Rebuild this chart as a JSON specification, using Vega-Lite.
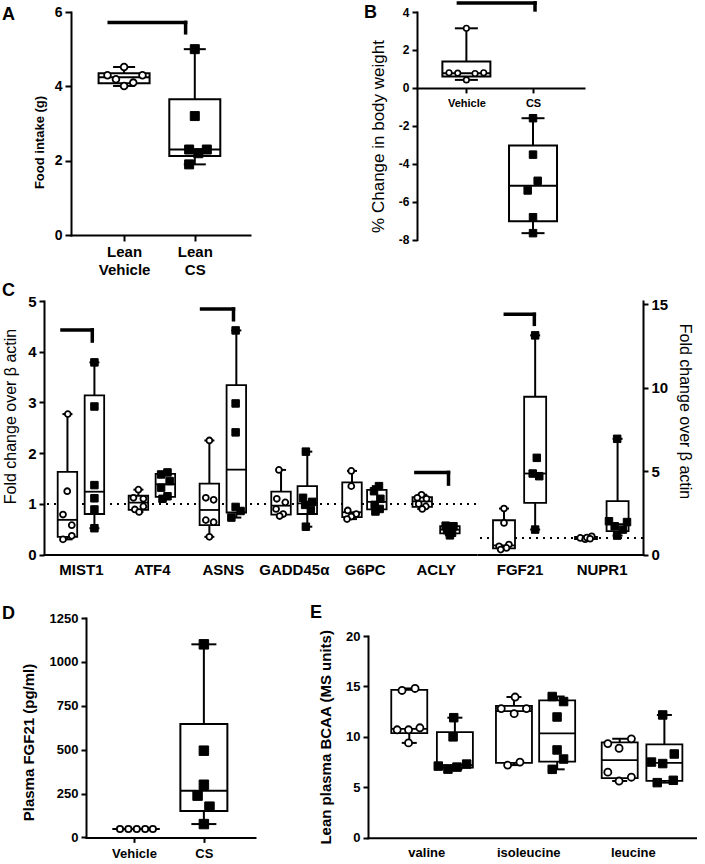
{
"$schema":"https://vega.github.io/schema/vega-lite/v6.json",
"background":"white",
"padding":{"left":2,"top":0,"right":0,"bottom":0},
"spacing":0,
"config":{
 "font":"Liberation Sans",
 "view":{"stroke":null},
 "title":{"font":"Liberation Sans","fontWeight":"bold","color":"black"},
 "axis":{"domainColor":"black","domainWidth":2,"domainCap":"square","tickColor":"black","tickWidth":2,"tickSize":5,"grid":false,"labelColor":"black","labelFont":"Liberation Sans","labelFontWeight":"bold","titleFont":"Liberation Sans","titleFontWeight":"bold","titleColor":"black","labelFlush":false,"labelOverlap":false,"labelPadding":3}
},
"datasets":{
"pts":[
{"p":"A","g":"V","x":0.765,"v":4.30},{"p":"A","g":"V","x":1.0,"v":4.52},{"p":"A","g":"V","x":0.885,"v":4.19},{"p":"A","g":"V","x":1.0,"v":4.01},{"p":"A","g":"V","x":1.13,"v":4.10},{"p":"A","g":"V","x":1.26,"v":4.30},
{"p":"A","g":"C","x":2.0,"v":5.0},{"p":"A","g":"C","x":2.0,"v":3.2},{"p":"A","g":"C","x":1.92,"v":2.3},{"p":"A","g":"C","x":2.17,"v":2.3},{"p":"A","g":"C","x":2.05,"v":2.2},{"p":"A","g":"C","x":1.92,"v":1.9},
{"p":"B","g":"V","x":1.0,"v":3.14},{"p":"B","g":"V","x":0.74,"v":0.80},{"p":"B","g":"V","x":0.87,"v":0.78},{"p":"B","g":"V","x":1.13,"v":0.76},{"p":"B","g":"V","x":1.26,"v":0.80},{"p":"B","g":"V","x":1.0,"v":0.42},
{"p":"B","g":"C","x":2.0,"v":-1.6},{"p":"B","g":"C","x":2.0,"v":-3.52},{"p":"B","g":"C","x":2.07,"v":-4.9},{"p":"B","g":"C","x":1.92,"v":-5.41},{"p":"B","g":"C","x":2.0,"v":-6.82},{"p":"B","g":"C","x":2.0,"v":-7.66},
{"p":"CL","g":"V","x":0.815,"v":2.77},{"p":"CL","g":"V","x":0.807,"v":1.25},{"p":"CL","g":"V","x":0.747,"v":0.79},{"p":"CL","g":"V","x":0.871,"v":0.58},{"p":"CL","g":"V","x":0.871,"v":0.37},{"p":"CL","g":"V","x":0.747,"v":0.30},
{"p":"CL","g":"C","x":1.19,"v":3.79},{"p":"CL","g":"C","x":1.19,"v":2.92},{"p":"CL","g":"C","x":1.19,"v":1.37},{"p":"CL","g":"C","x":1.19,"v":1.11},{"p":"CL","g":"C","x":1.19,"v":0.89},{"p":"CL","g":"C","x":1.19,"v":0.52},
{"p":"CL","g":"V","x":1.81,"v":1.28},{"p":"CL","g":"V","x":1.74,"v":1.12},{"p":"CL","g":"V","x":1.88,"v":1.10},{"p":"CL","g":"V","x":1.88,"v":0.95},{"p":"CL","g":"V","x":1.76,"v":0.89},{"p":"CL","g":"V","x":1.82,"v":0.84},
{"p":"CL","g":"C","x":2.22,"v":1.62},{"p":"CL","g":"C","x":2.13,"v":1.58},{"p":"CL","g":"C","x":2.25,"v":1.45},{"p":"CL","g":"C","x":2.13,"v":1.32},{"p":"CL","g":"C","x":2.22,"v":1.15},{"p":"CL","g":"C","x":2.15,"v":1.10},
{"p":"CL","g":"V","x":2.81,"v":2.25},{"p":"CL","g":"V","x":2.76,"v":1.12},{"p":"CL","g":"V","x":2.87,"v":1.08},{"p":"CL","g":"V","x":2.76,"v":0.68},{"p":"CL","g":"V","x":2.87,"v":0.64},{"p":"CL","g":"V","x":2.81,"v":0.35},
{"p":"CL","g":"C","x":3.18,"v":4.42},{"p":"CL","g":"C","x":3.18,"v":2.98},{"p":"CL","g":"C","x":3.18,"v":2.41},{"p":"CL","g":"C","x":3.18,"v":0.94},{"p":"CL","g":"C","x":3.25,"v":0.86},{"p":"CL","g":"C","x":3.12,"v":0.73},
{"p":"CL","g":"V","x":3.79,"v":1.67},{"p":"CL","g":"V","x":3.76,"v":1.10},{"p":"CL","g":"V","x":3.88,"v":1.03},{"p":"CL","g":"V","x":3.75,"v":0.90},{"p":"CL","g":"V","x":3.85,"v":0.80},{"p":"CL","g":"V","x":3.80,"v":0.76},
{"p":"CL","g":"C","x":4.17,"v":2.03},{"p":"CL","g":"C","x":4.13,"v":1.12},{"p":"CL","g":"C","x":4.26,"v":1.04},{"p":"CL","g":"C","x":4.16,"v":0.98},{"p":"CL","g":"C","x":4.24,"v":0.88},{"p":"CL","g":"C","x":4.17,"v":0.55},
{"p":"CL","g":"V","x":4.81,"v":1.65},{"p":"CL","g":"V","x":4.81,"v":1.35},{"p":"CL","g":"V","x":4.76,"v":0.87},{"p":"CL","g":"V","x":4.88,"v":0.80},{"p":"CL","g":"V","x":4.81,"v":0.75},{"p":"CL","g":"V","x":4.75,"v":0.70},
{"p":"CL","g":"C","x":5.20,"v":1.35},{"p":"CL","g":"C","x":5.13,"v":1.25},{"p":"CL","g":"C","x":5.22,"v":1.10},{"p":"CL","g":"C","x":5.14,"v":0.98},{"p":"CL","g":"C","x":5.21,"v":0.90},{"p":"CL","g":"C","x":5.15,"v":0.85},
{"p":"CL","g":"V","x":5.80,"v":1.18},{"p":"CL","g":"V","x":5.74,"v":1.12},{"p":"CL","g":"V","x":5.87,"v":1.10},{"p":"CL","g":"V","x":5.76,"v":1.00},{"p":"CL","g":"V","x":5.86,"v":0.95},{"p":"CL","g":"V","x":5.81,"v":0.90},
{"p":"CL","g":"C","x":6.14,"v":0.57},{"p":"CL","g":"C","x":6.25,"v":0.56},{"p":"CL","g":"C","x":6.20,"v":0.50},{"p":"CL","g":"C","x":6.16,"v":0.48},{"p":"CL","g":"C","x":6.23,"v":0.43},{"p":"CL","g":"C","x":6.20,"v":0.38},
{"p":"CR","g":"V","x":0.81,"v":2.76},{"p":"CR","g":"V","x":0.81,"v":1.9},{"p":"CR","g":"V","x":0.87,"v":0.6},{"p":"CR","g":"V","x":0.75,"v":0.5},{"p":"CR","g":"V","x":0.84,"v":0.4},{"p":"CR","g":"V","x":0.77,"v":0.3},
{"p":"CR","g":"C","x":1.19,"v":13.14},{"p":"CR","g":"C","x":1.21,"v":5.8},{"p":"CR","g":"C","x":1.16,"v":4.86},{"p":"CR","g":"C","x":1.24,"v":4.70},{"p":"CR","g":"C","x":1.19,"v":1.5},
{"p":"CR","g":"V","x":1.74,"v":1.0},{"p":"CR","g":"V","x":1.80,"v":0.92},{"p":"CR","g":"V","x":1.82,"v":1.02},{"p":"CR","g":"V","x":1.88,"v":1.1},{"p":"CR","g":"V","x":1.86,"v":0.95},
{"p":"CR","g":"C","x":2.19,"v":6.94},{"p":"CR","g":"C","x":2.09,"v":2.0},{"p":"CR","g":"C","x":2.31,"v":1.95},{"p":"CR","g":"C","x":2.16,"v":1.7},{"p":"CR","g":"C","x":2.26,"v":1.5},{"p":"CR","g":"C","x":2.19,"v":1.14},
{"p":"D","g":"V","x":0.80,"v":48},{"p":"D","g":"V","x":0.92,"v":48},{"p":"D","g":"V","x":1.04,"v":48},{"p":"D","g":"V","x":1.16,"v":48},{"p":"D","g":"V","x":1.27,"v":48},
{"p":"D","g":"C","x":2.0,"v":1100},{"p":"D","g":"C","x":2.0,"v":494},{"p":"D","g":"C","x":2.0,"v":300},{"p":"D","g":"C","x":1.91,"v":238},{"p":"D","g":"C","x":2.08,"v":175},{"p":"D","g":"C","x":2.0,"v":76},
{"p":"E","g":"V","x":0.714,"v":14.6},{"p":"E","g":"V","x":0.838,"v":14.8},{"p":"E","g":"V","x":0.668,"v":10.7},{"p":"E","g":"V","x":0.776,"v":10.7},{"p":"E","g":"V","x":0.884,"v":10.9},{"p":"E","g":"V","x":0.776,"v":9.4},
{"p":"E","g":"C","x":1.206,"v":11.9},{"p":"E","g":"C","x":1.2,"v":10.0},{"p":"E","g":"C","x":1.059,"v":7.1},{"p":"E","g":"C","x":1.151,"v":6.8},{"p":"E","g":"C","x":1.237,"v":7.0},{"p":"E","g":"C","x":1.329,"v":7.3},
{"p":"E","g":"V","x":1.79,"v":13.95},{"p":"E","g":"V","x":1.658,"v":12.8},{"p":"E","g":"V","x":1.781,"v":12.3},{"p":"E","g":"V","x":1.898,"v":12.8},{"p":"E","g":"V","x":1.836,"v":7.5},{"p":"E","g":"V","x":1.719,"v":7.2},
{"p":"E","g":"C","x":2.143,"v":14.0},{"p":"E","g":"C","x":2.251,"v":13.5},{"p":"E","g":"C","x":2.189,"v":11.97},{"p":"E","g":"C","x":2.189,"v":8.7},{"p":"E","g":"C","x":2.251,"v":7.8},{"p":"E","g":"C","x":2.143,"v":6.78},
{"p":"E","g":"V","x":2.672,"v":9.33},{"p":"E","g":"V","x":2.896,"v":9.8},{"p":"E","g":"V","x":2.779,"v":8.87},{"p":"E","g":"V","x":2.672,"v":6.5},{"p":"E","g":"V","x":2.896,"v":6.0},{"p":"E","g":"V","x":2.779,"v":5.62},
{"p":"E","g":"C","x":3.194,"v":12.17},{"p":"E","g":"C","x":3.304,"v":8.3},{"p":"E","g":"C","x":3.087,"v":7.5},{"p":"E","g":"C","x":3.194,"v":7.35},{"p":"E","g":"C","x":3.295,"v":5.69},{"p":"E","g":"C","x":3.142,"v":5.46}
],
"box":[
{"p":"A","g":"V","x":1.0,"lo":4.01,"q1":4.08,"med":4.245,"q3":4.355,"hi":4.52},
{"p":"A","g":"C","x":2.0,"lo":1.9,"q1":2.125,"med":2.3,"q3":3.65,"hi":5.0},
{"p":"B","g":"V","x":1.0,"lo":0.42,"q1":0.60,"med":0.77,"q3":1.39,"hi":3.14},
{"p":"B","g":"C","x":2.0,"lo":-7.66,"q1":-7.03,"med":-5.16,"q3":-3.04,"hi":-1.6},
{"p":"CL","g":"V","x":0.81,"lo":0.30,"q1":0.35,"med":0.685,"q3":1.63,"hi":2.77},
{"p":"CL","g":"C","x":1.19,"lo":0.52,"q1":0.80,"med":1.24,"q3":3.14,"hi":3.79},
{"p":"CL","g":"V","x":1.81,"lo":0.84,"q1":0.88,"med":1.025,"q3":1.16,"hi":1.28},
{"p":"CL","g":"C","x":2.19,"lo":1.10,"q1":1.14,"med":1.385,"q3":1.59,"hi":1.62},
{"p":"CL","g":"V","x":2.81,"lo":0.35,"q1":0.58,"med":0.88,"q3":1.40,"hi":2.25},
{"p":"CL","g":"C","x":3.19,"lo":0.73,"q1":0.83,"med":1.675,"q3":3.34,"hi":4.42},
{"p":"CL","g":"V","x":3.82,"lo":0.76,"q1":0.79,"med":0.965,"q3":1.24,"hi":1.67},
{"p":"CL","g":"C","x":4.19,"lo":0.55,"q1":0.80,"med":1.01,"q3":1.35,"hi":2.03},
{"p":"CL","g":"V","x":4.82,"lo":0.70,"q1":0.74,"med":0.835,"q3":1.425,"hi":1.65},
{"p":"CL","g":"C","x":5.17,"lo":0.85,"q1":0.89,"med":1.04,"q3":1.275,"hi":1.35},
{"p":"CL","g":"V","x":5.81,"lo":0.90,"q1":0.94,"med":1.05,"q3":1.135,"hi":1.18},
{"p":"CL","g":"C","x":6.20,"lo":0.38,"q1":0.42,"med":0.49,"q3":0.5625,"hi":0.57},
{"p":"CR","g":"V","x":0.81,"lo":0.3,"q1":0.375,"med":0.55,"q3":2.06,"hi":2.76},
{"p":"CR","g":"C","x":1.19,"lo":1.5,"q1":3.1,"med":4.86,"q3":9.46,"hi":13.14},
{"p":"CR","g":"V","x":1.81,"lo":0.92,"q1":0.935,"med":1.0,"q3":1.06,"hi":1.1},
{"p":"CR","g":"C","x":2.195,"lo":1.14,"q1":1.41,"med":1.825,"q3":3.2,"hi":6.94},
{"p":"D","g":"V","x":1.03,"lo":48,"q1":48,"med":48,"q3":48,"hi":48},
{"p":"D","g":"C","x":2.0,"lo":76,"q1":150,"med":266,"q3":646,"hi":1100},
{"p":"E","g":"V","x":0.783,"lo":9.4,"q1":10.375,"med":10.8,"q3":14.65,"hi":14.8},
{"p":"E","g":"C","x":1.217,"lo":6.8,"q1":6.95,"med":7.2,"q3":10.475,"hi":11.9},
{"p":"E","g":"V","x":1.779,"lo":7.2,"q1":7.425,"med":12.55,"q3":13.075,"hi":13.95},
{"p":"E","g":"C","x":2.19,"lo":6.78,"q1":7.545,"med":10.335,"q3":13.625,"hi":14.0},
{"p":"E","g":"V","x":2.785,"lo":5.62,"q1":5.905,"med":7.685,"q3":9.45,"hi":9.8},
{"p":"E","g":"C","x":3.21,"lo":5.46,"q1":5.63,"med":7.425,"q3":9.26,"hi":12.17}
],
"brk":[
{"p":"A","xa":0.79,"xb":1.87,"yt":5.72,"yb":5.44},
{"p":"B","xa":0.88,"xb":2.03,"yt":4.48,"yb":4.11},
{"p":"CL","xa":0.733,"xb":1.16,"yt":4.43,"yb":4.21},
{"p":"CL","xa":2.70,"xb":3.15,"yt":4.84,"yb":4.63},
{"p":"CL","xa":5.72,"xb":6.18,"yt":1.62,"yb":1.39},
{"p":"CR","xa":0.826,"xb":1.18,"yt":14.4,"yb":13.8}
],
"ref":[{"p":"CL","r":1},{"p":"CR","r":1}]
},
"vconcat":[
{"hconcat":[
 {"width":27,"height":1,"data":{"values":[]},"mark":"point"},
 {"width":179,"height":223,
  "title":{"text":"A","anchor":"start","frame":"group","orient":"top","baseline":"bottom","offset":0,"dx":-69,"dy":37,"fontSize":18},
  "layer":[
   {"data":{"name":"box"},"transform":[{"filter":"datum.p=='A'"}],"mark":{"type":"rule","color":"black","strokeWidth":2},
    "encoding":{"x":{"field":"x","type":"quantitative","scale":{"domain":[0.32,2.71],"nice":false,"zero":false},"axis":{"title":null,"values":[1,2],"labelExpr":"datum.value<1.5?['Lean','Vehicle']:['Lean','CS']","labelFontSize":15,"labelLineHeight":18,"tickSize":6,"labelOverlap":false}},
     "y":{"field":"lo","type":"quantitative","scale":{"domain":[0,6],"nice":false,"zero":false},"axis":{"title":"Food intake (g)","values":[0,2,4,6],"labelFontSize":14,"titleFontSize":13,"titlePadding":8,"titleY":130,"tickSize":6,"labelOverlap":false}},
     "y2":{"field":"hi"}}},
   {"data":{"name":"box"},"transform":[{"filter":"datum.p=='A'"}],"mark":{"type":"bar","width":51,"fill":"white","stroke":"black","strokeWidth":2},
    "encoding":{"x":{"field":"x","type":"quantitative"},"y":{"field":"q1","type":"quantitative"},"y2":{"field":"q3"}}},
   {"data":{"name":"box"},"transform":[{"filter":"datum.p=='A'"}],"mark":{"type":"tick","orient":"horizontal","size":51,"thickness":2,"color":"black","opacity":1},
    "encoding":{"x":{"field":"x","type":"quantitative"},"y":{"field":"med","type":"quantitative"}}},
   {"data":{"name":"box"},"transform":[{"filter":"datum.p=='A'"},{"fold":["lo","hi"],"as":["k","cv"]}],"mark":{"type":"tick","orient":"horizontal","size":22,"thickness":2,"color":"black","opacity":1},
    "encoding":{"x":{"field":"x","type":"quantitative"},"y":{"field":"cv","type":"quantitative"}}},
   {"data":{"name":"pts"},"transform":[{"filter":"datum.p=='A' && datum.g=='V'"}],"mark":{"type":"point","shape":"circle","size":45,"filled":true,"fill":"white","stroke":"black","strokeWidth":1.8,"opacity":1},
    "encoding":{"x":{"field":"x","type":"quantitative"},"y":{"field":"v","type":"quantitative"}}},
   {"data":{"name":"pts"},"transform":[{"filter":"datum.p=='A' && datum.g=='C'"}],"mark":{"type":"point","shape":"square","size":81,"filled":true,"fill":"black","stroke":"black","strokeWidth":1,"opacity":1},
    "encoding":{"x":{"field":"x","type":"quantitative"},"y":{"field":"v","type":"quantitative"}}},
   {"data":{"name":"brk"},"transform":[{"filter":"datum.p=='A'"}],"mark":{"type":"rule","color":"black","strokeWidth":3.5,"strokeCap":"square"},
    "encoding":{"x":{"field":"xa","type":"quantitative"},"x2":{"field":"xb"},"y":{"field":"yt","type":"quantitative"}}},
   {"data":{"name":"brk"},"transform":[{"filter":"datum.p=='A'"}],"mark":{"type":"rule","color":"black","strokeWidth":3.5,"strokeCap":"square"},
    "encoding":{"x":{"field":"xb","type":"quantitative"},"y":{"field":"yt","type":"quantitative"},"y2":{"field":"yb"}}}
  ]},
 {"width":167,"height":1,"data":{"values":[]},"mark":"point"},
 {"width":167,"height":227.6,
  "title":{"text":"B","anchor":"start","frame":"group","orient":"top","baseline":"bottom","offset":0,"dx":-53,"dy":39.6,"fontSize":18},
  "layer":[
   {"data":{"name":"box"},"transform":[{"filter":"datum.p=='B'"}],"mark":{"type":"rule","color":"black","strokeWidth":2},
    "encoding":{"x":{"field":"x","type":"quantitative","scale":{"domain":[0.334,2.69],"nice":false,"zero":false},"axis":{"title":null,"values":[1,2],"labelExpr":"datum.value<1.5?'Vehicle':'CS'","labelFontSize":11,"labelPadding":5,"offset":-151.7,"labelOverlap":false}},
     "y":{"field":"lo","type":"quantitative","scale":{"domain":[-8,4],"nice":false,"zero":false},"axis":{"title":"% Change in body weight","tickCount":7,"labelExpr":"datum.value<0?'-'+abs(datum.value):''+datum.value","labelFontSize":12,"titleFontSize":17,"titleFontWeight":"normal","titlePadding":11,"titleY":124,"labelOverlap":false,"labelSeparation":0}},
     "y2":{"field":"hi"}}},
   {"data":{"name":"box"},"transform":[{"filter":"datum.p=='B'"}],"mark":{"type":"bar","width":48,"fill":"white","stroke":"black","strokeWidth":2},
    "encoding":{"x":{"field":"x","type":"quantitative"},"y":{"field":"q1","type":"quantitative"},"y2":{"field":"q3"}}},
   {"data":{"name":"box"},"transform":[{"filter":"datum.p=='B'"}],"mark":{"type":"tick","orient":"horizontal","size":48,"thickness":2,"color":"black","opacity":1},
    "encoding":{"x":{"field":"x","type":"quantitative"},"y":{"field":"med","type":"quantitative"}}},
   {"data":{"name":"box"},"transform":[{"filter":"datum.p=='B'"},{"fold":["lo","hi"],"as":["k","cv"]}],"mark":{"type":"tick","orient":"horizontal","size":23,"thickness":2,"color":"black","opacity":1},
    "encoding":{"x":{"field":"x","type":"quantitative"},"y":{"field":"cv","type":"quantitative"}}},
   {"data":{"name":"pts"},"transform":[{"filter":"datum.p=='B' && datum.g=='V'"}],"mark":{"type":"point","shape":"circle","size":30,"filled":true,"fill":"white","stroke":"black","strokeWidth":1.6,"opacity":1},
    "encoding":{"x":{"field":"x","type":"quantitative"},"y":{"field":"v","type":"quantitative"}}},
   {"data":{"name":"pts"},"transform":[{"filter":"datum.p=='B' && datum.g=='C'"}],"mark":{"type":"point","shape":"square","size":56,"filled":true,"fill":"black","stroke":"black","strokeWidth":1,"opacity":1},
    "encoding":{"x":{"field":"x","type":"quantitative"},"y":{"field":"v","type":"quantitative"}}},
   {"data":{"name":"brk"},"transform":[{"filter":"datum.p=='B'"}],"mark":{"type":"rule","color":"black","strokeWidth":3.5,"strokeCap":"square"},
    "encoding":{"x":{"field":"xa","type":"quantitative"},"x2":{"field":"xb"},"y":{"field":"yt","type":"quantitative"}}},
   {"data":{"name":"brk"},"transform":[{"filter":"datum.p=='B'"}],"mark":{"type":"rule","color":"black","strokeWidth":3.5,"strokeCap":"square"},
    "encoding":{"x":{"field":"xb","type":"quantitative"},"y":{"field":"yt","type":"quantitative"},"y2":{"field":"yb"}}}
  ]}
 ],"spacing":0,"bounds":"flush"},
{"width":1,"height":4.7,"view":{"fill":"white","stroke":null},"data":{"values":[]},"mark":"point"},
{"hconcat":[
 {"width":432,"height":253.6,
  "title":{"text":"C","anchor":"start","frame":"group","orient":"top","baseline":"bottom","offset":0,"dx":-42,"dy":24.3,"fontSize":18},
  "layer":[
   {"data":{"name":"ref"},"transform":[{"filter":"datum.p=='CL'"}],"mark":{"type":"rule","color":"black","strokeWidth":2,"strokeDash":[2,5]},
    "encoding":{"y":{"field":"r","type":"quantitative"}}},
   {"data":{"name":"box"},"transform":[{"filter":"datum.p=='CL'"}],"mark":{"type":"rule","color":"black","strokeWidth":2},
    "encoding":{"x":{"field":"x","type":"quantitative","scale":{"domain":[0.55,6.497],"nice":false,"zero":false},"axis":{"title":null,"values":[1,2,3,4,5,6],"ticks":false,"tickSize":0,"labelExpr":"['MIST1','ATF4','ASNS','GADD45α','G6PC','ACLY'][round(datum.value)-1]","labelFontSize":15,"labelPadding":8,"labelOverlap":false}},
     "y":{"field":"lo","type":"quantitative","scale":{"domain":[0,5],"nice":false,"zero":false},"axis":{"title":"Fold change over β actin","values":[0,1,2,3,4,5],"labelFontSize":15,"titleFontSize":16,"titleFontWeight":"normal","titlePadding":9,"titleY":115,"labelOverlap":false}},
     "y2":{"field":"hi"}}},
   {"data":{"name":"box"},"transform":[{"filter":"datum.p=='CL'"}],"mark":{"type":"bar","width":19.5,"fill":"white","stroke":"black","strokeWidth":1.8},
    "encoding":{"x":{"field":"x","type":"quantitative"},"y":{"field":"q1","type":"quantitative"},"y2":{"field":"q3"}}},
   {"data":{"name":"box"},"transform":[{"filter":"datum.p=='CL'"}],"mark":{"type":"tick","orient":"horizontal","size":19.5,"thickness":1.8,"color":"black","opacity":1},
    "encoding":{"x":{"field":"x","type":"quantitative"},"y":{"field":"med","type":"quantitative"}}},
   {"data":{"name":"box"},"transform":[{"filter":"datum.p=='CL'"},{"fold":["lo","hi"],"as":["k","cv"]}],"mark":{"type":"tick","orient":"horizontal","size":10,"thickness":2,"color":"black","opacity":1},
    "encoding":{"x":{"field":"x","type":"quantitative"},"y":{"field":"cv","type":"quantitative"}}},
   {"data":{"name":"pts"},"transform":[{"filter":"datum.p=='CL' && datum.g=='V'"}],"mark":{"type":"point","shape":"circle","size":35,"filled":true,"fill":"white","stroke":"black","strokeWidth":1.8,"opacity":1},
    "encoding":{"x":{"field":"x","type":"quantitative"},"y":{"field":"v","type":"quantitative"}}},
   {"data":{"name":"pts"},"transform":[{"filter":"datum.p=='CL' && datum.g=='C'"}],"mark":{"type":"point","shape":"square","size":56,"filled":true,"fill":"black","stroke":"black","strokeWidth":1,"opacity":1},
    "encoding":{"x":{"field":"x","type":"quantitative"},"y":{"field":"v","type":"quantitative"}}},
   {"data":{"name":"brk"},"transform":[{"filter":"datum.p=='CL'"}],"mark":{"type":"rule","color":"black","strokeWidth":3.5,"strokeCap":"square"},
    "encoding":{"x":{"field":"xa","type":"quantitative"},"x2":{"field":"xb"},"y":{"field":"yt","type":"quantitative"}}},
   {"data":{"name":"brk"},"transform":[{"filter":"datum.p=='CL'"}],"mark":{"type":"rule","color":"black","strokeWidth":3.5,"strokeCap":"square"},
    "encoding":{"x":{"field":"xb","type":"quantitative"},"y":{"field":"yt","type":"quantitative"},"y2":{"field":"yb"}}}
  ]},
 {"width":165,"height":253.6,
  "layer":[
   {"data":{"name":"ref"},"transform":[{"filter":"datum.p=='CR'"}],"mark":{"type":"rule","color":"black","strokeWidth":2,"strokeDash":[2,5]},
    "encoding":{"y":{"field":"r","type":"quantitative"}}},
   {"data":{"name":"box"},"transform":[{"filter":"datum.p=='CR'"}],"mark":{"type":"rule","color":"black","strokeWidth":2},
    "encoding":{"x":{"field":"x","type":"quantitative","scale":{"domain":[0.554,2.444],"nice":false,"zero":false},"axis":{"title":null,"values":[1,2],"ticks":false,"tickSize":0,"labelExpr":"datum.value<1.5?'FGF21':'NUPR1'","labelFontSize":15,"labelPadding":8,"labelOverlap":false}},
     "y":{"field":"lo","type":"quantitative","scale":{"domain":[0,15.2],"nice":false,"zero":false},"axis":{"orient":"right","title":"Fold change over  β actin","values":[0,5,10,15],"labelFontSize":15,"titleFontSize":16,"titleFontWeight":"normal","titlePadding":9,"titleY":110,"labelOverlap":false}},
     "y2":{"field":"hi"}}},
   {"data":{"name":"box"},"transform":[{"filter":"datum.p=='CR'"}],"mark":{"type":"bar","width":22,"fill":"white","stroke":"black","strokeWidth":1.8},
    "encoding":{"x":{"field":"x","type":"quantitative"},"y":{"field":"q1","type":"quantitative"},"y2":{"field":"q3"}}},
   {"data":{"name":"box"},"transform":[{"filter":"datum.p=='CR'"}],"mark":{"type":"tick","orient":"horizontal","size":22,"thickness":1.8,"color":"black","opacity":1},
    "encoding":{"x":{"field":"x","type":"quantitative"},"y":{"field":"med","type":"quantitative"}}},
   {"data":{"name":"box"},"transform":[{"filter":"datum.p=='CR'"},{"fold":["lo","hi"],"as":["k","cv"]}],"mark":{"type":"tick","orient":"horizontal","size":10,"thickness":2,"color":"black","opacity":1},
    "encoding":{"x":{"field":"x","type":"quantitative"},"y":{"field":"cv","type":"quantitative"}}},
   {"data":{"name":"pts"},"transform":[{"filter":"datum.p=='CR' && datum.g=='V'"}],"mark":{"type":"point","shape":"circle","size":35,"filled":true,"fill":"white","stroke":"black","strokeWidth":1.8,"opacity":1},
    "encoding":{"x":{"field":"x","type":"quantitative"},"y":{"field":"v","type":"quantitative"}}},
   {"data":{"name":"pts"},"transform":[{"filter":"datum.p=='CR' && datum.g=='C'"}],"mark":{"type":"point","shape":"square","size":56,"filled":true,"fill":"black","stroke":"black","strokeWidth":1,"opacity":1},
    "encoding":{"x":{"field":"x","type":"quantitative"},"y":{"field":"v","type":"quantitative"}}},
   {"data":{"name":"brk"},"transform":[{"filter":"datum.p=='CR'"}],"mark":{"type":"rule","color":"black","strokeWidth":3.5,"strokeCap":"square"},
    "encoding":{"x":{"field":"xa","type":"quantitative"},"x2":{"field":"xb"},"y":{"field":"yt","type":"quantitative"}}},
   {"data":{"name":"brk"},"transform":[{"filter":"datum.p=='CR'"}],"mark":{"type":"rule","color":"black","strokeWidth":3.5,"strokeCap":"square"},
    "encoding":{"x":{"field":"xb","type":"quantitative"},"y":{"field":"yt","type":"quantitative"},"y2":{"field":"yb"}}}
  ]}
 ],"spacing":2,"bounds":"flush"},
{"width":1,"height":25.6,"view":{"fill":"white","stroke":null},"data":{"values":[]},"mark":"point"},
{"hconcat":[
 {"width":42,"height":1,"data":{"values":[]},"mark":"point"},
 {"width":169,"height":219.4,
  "title":{"text":"D","anchor":"start","frame":"group","orient":"top","baseline":"bottom","offset":0,"dx":-84,"dy":28.7,"fontSize":18},
  "layer":[
   {"data":{"name":"box"},"transform":[{"filter":"datum.p=='D'"}],"mark":{"type":"rule","color":"black","strokeWidth":2},
    "encoding":{"x":{"field":"x","type":"quantitative","scale":{"domain":[0.385,2.66],"nice":false,"zero":false},"axis":{"title":null,"values":[1,2],"labelExpr":"datum.value<1.5?'Vehicle':'CS'","labelFontSize":13,"labelPadding":5,"labelOverlap":false}},
     "y":{"field":"lo","type":"quantitative","scale":{"domain":[0,1250],"nice":false,"zero":false},"axis":{"title":"Plasma FGF21 (pg/ml)","values":[0,250,500,750,1000,1250],"format":"d","labelFontSize":13,"titleFontSize":15,"titlePadding":13,"titleY":124,"labelOverlap":false}},
     "y2":{"field":"hi"}}},
   {"data":{"name":"box"},"transform":[{"filter":"datum.p=='D'"}],"mark":{"type":"bar","width":47,"fill":"white","stroke":"black","strokeWidth":2},
    "encoding":{"x":{"field":"x","type":"quantitative"},"y":{"field":"q1","type":"quantitative"},"y2":{"field":"q3"}}},
   {"data":{"name":"box"},"transform":[{"filter":"datum.p=='D'"}],"mark":{"type":"tick","orient":"horizontal","size":47,"thickness":2,"color":"black","opacity":1},
    "encoding":{"x":{"field":"x","type":"quantitative"},"y":{"field":"med","type":"quantitative"}}},
   {"data":{"name":"box"},"transform":[{"filter":"datum.p=='D'"},{"fold":["lo","hi"],"as":["k","cv"]}],"mark":{"type":"tick","orient":"horizontal","size":25,"thickness":2,"color":"black","opacity":1},
    "encoding":{"x":{"field":"x","type":"quantitative"},"y":{"field":"cv","type":"quantitative"}}},
   {"data":{"name":"pts"},"transform":[{"filter":"datum.p=='D' && datum.g=='V'"}],"mark":{"type":"point","shape":"circle","size":40,"filled":true,"fill":"white","stroke":"black","strokeWidth":1.8,"opacity":1},
    "encoding":{"x":{"field":"x","type":"quantitative"},"y":{"field":"v","type":"quantitative"}}},
   {"data":{"name":"pts"},"transform":[{"filter":"datum.p=='D' && datum.g=='C'"}],"mark":{"type":"point","shape":"square","size":90,"filled":true,"fill":"black","stroke":"black","strokeWidth":1,"opacity":1},
    "encoding":{"x":{"field":"x","type":"quantitative"},"y":{"field":"v","type":"quantitative"}}}
  ]},
 {"width":113,"height":1,"data":{"values":[]},"mark":"point"},
 {"vconcat":[
  {"width":1,"height":17.7,"data":{"values":[]},"mark":"point"},
  {"width":328.4,"height":201.7,
   "title":{"text":"E","anchor":"start","frame":"group","orient":"top","baseline":"bottom","offset":0,"dx":-58,"dy":11,"fontSize":18},
   "layer":[
    {"data":{"name":"box"},"transform":[{"filter":"datum.p=='E'"}],"mark":{"type":"rule","color":"black","strokeWidth":2},
     "encoding":{"x":{"field":"x","type":"quantitative","scale":{"domain":[0.438,3.467],"nice":false,"zero":false},"axis":{"title":null,"values":[0.945,1.915,2.91],"ticks":false,"tickSize":0,"labelExpr":"datum.value<1.5?'valine':(datum.value<2.5?'isoleucine':'leucine')","labelFontSize":13,"labelPadding":9,"labelOverlap":false}},
      "y":{"field":"lo","type":"quantitative","scale":{"domain":[0,20],"nice":false,"zero":false},"axis":{"title":"Lean plasma BCAA (MS units)","values":[0,5,10,15,20],"labelFontSize":13,"titleFontSize":15,"titlePadding":12,"labelOverlap":false}},
      "y2":{"field":"hi"}}},
    {"data":{"name":"box"},"transform":[{"filter":"datum.p=='E'"}],"mark":{"type":"bar","width":36,"fill":"white","stroke":"black","strokeWidth":1.8},
     "encoding":{"x":{"field":"x","type":"quantitative"},"y":{"field":"q1","type":"quantitative"},"y2":{"field":"q3"}}},
    {"data":{"name":"box"},"transform":[{"filter":"datum.p=='E'"}],"mark":{"type":"tick","orient":"horizontal","size":36,"thickness":1.8,"color":"black","opacity":1},
     "encoding":{"x":{"field":"x","type":"quantitative"},"y":{"field":"med","type":"quantitative"}}},
    {"data":{"name":"box"},"transform":[{"filter":"datum.p=='E'"},{"fold":["lo","hi"],"as":["k","cv"]}],"mark":{"type":"tick","orient":"horizontal","size":15,"thickness":2,"color":"black","opacity":1},
     "encoding":{"x":{"field":"x","type":"quantitative"},"y":{"field":"cv","type":"quantitative"}}},
    {"data":{"name":"pts"},"transform":[{"filter":"datum.p=='E' && datum.g=='V'"}],"mark":{"type":"point","shape":"circle","size":50,"filled":true,"fill":"white","stroke":"black","strokeWidth":1.8,"opacity":1},
     "encoding":{"x":{"field":"x","type":"quantitative"},"y":{"field":"v","type":"quantitative"}}},
    {"data":{"name":"pts"},"transform":[{"filter":"datum.p=='E' && datum.g=='C'"}],"mark":{"type":"point","shape":"square","size":72,"filled":true,"fill":"black","stroke":"black","strokeWidth":1,"opacity":1},
     "encoding":{"x":{"field":"x","type":"quantitative"},"y":{"field":"v","type":"quantitative"}}}
   ]}
 ],"spacing":0,"bounds":"flush"}
 ],"spacing":0,"bounds":"flush"}
]
}
